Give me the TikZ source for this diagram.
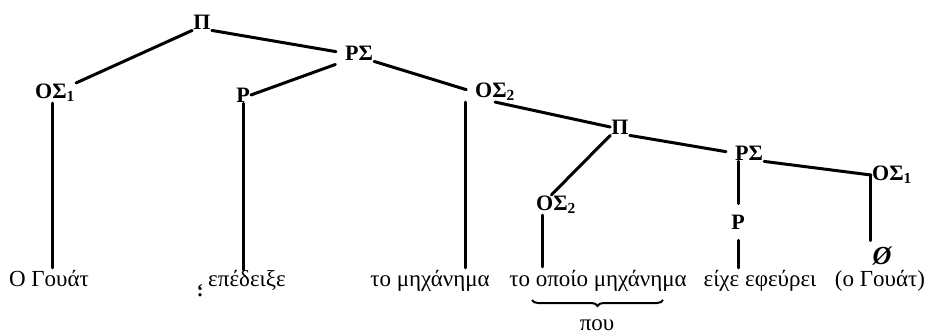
\documentclass[tikz,border=0pt]{standalone}
\usepackage{fontspec}
\setmainfont{Liberation Serif}
\usetikzlibrary{calc,decorations.pathreplacing}
\begin{document}
\begin{tikzpicture}[x=1pt,y=-1pt,
  lab/.style={font=\fontsize{22}{22}\selectfont\bfseries, inner sep=1pt},
  word/.style={font=\fontsize{23}{23}\selectfont, inner sep=1pt, anchor=base, text height=15pt, text depth=5pt},
  edge/.style={line width=3pt, line cap=round},
  bracestyle/.style={line width=2pt, decorate, decoration={brace, mirror, amplitude=6pt}}]
\useasboundingbox (0,0) rectangle (925,334);
% labels
\node[lab] (pi) at (202,22) {Π};
\node[lab] (ps) at (359,53) {ΡΣ};
\node[lab] (os1) at (55,93) {ΟΣ\textsubscript{1}};
\node[lab] (p1) at (243,95) {Ρ};
\node[lab] (os2) at (495,92) {ΟΣ\textsubscript{2}};
\node[lab] (pi2) at (620,127) {Π};
\node[lab] (os2b) at (556,205) {ΟΣ\textsubscript{2}};
\node[lab] (ps2) at (749,153) {ΡΣ};
\node[lab] (os1b) at (892,175) {ΟΣ\textsubscript{1}};
\node[lab] (p2) at (738,222) {Ρ};
\node[font=\fontsize{26}{26}\selectfont\itshape\bfseries, inner sep=1pt] (null) at (882,256) {Ø};
% words
\node[word] (w1) at (49,286) {Ο Γουάτ};
\node[word] (w2) at (247,286) {επέδειξε};
\node[word] (w3) at (430,286) {το μηχάνημα};
\node[word] (w4) at (598,286) {το οποίο μηχάνημα};
\node[word] (w5) at (760,286) {είχε εφεύρει};
\node[word] (w6) at (880,286) {(ο Γουάτ)};
\node[word, text depth=0pt] (pou) at (597,330) {που};
\node[font=\fontsize{20}{20}\selectfont\bfseries, inner sep=0pt] (mk) at (200,291) {\rotatebox{180}{;}};
% brace
\coordinate (bl) at (532,300);
\coordinate (br) at (663,300);
\draw[bracestyle] (bl) -- (br);
% edges
\draw[edge] (pi.south west) -- (os1.north east);
\draw[edge, shorten >=8pt] (pi.south east) -- (ps.west);
\draw[edge, shorten <=9pt] (ps.south west) -- (p1.east);
\draw[edge, shorten >=8pt] (ps.south east) -- (os2.west);
\draw[edge, shorten >=2pt] ($(os2.south west)+(-8,0)$) -- ($(os2.south west |- w3.north)+(-8,0)$);
\draw[edge, shorten >=2pt] ($(os1.south)+(-3,0)$) -- ($(os1.south |- w1.north)+(-3,0)$);
\draw[edge] (p1.south) -- (p1.south |- w2.north);
\draw[edge] (os2.south) -- (pi2.west);
\draw[edge] (pi2.south west) -- (os2b.115);
\draw[edge, shorten >=3pt] ($(os2b.south west)+(8,0)$) -- ($(os2b.south west |- w4.north)+(8,0)$);
\draw[edge, shorten >=8pt] (pi2.south east) -- (ps2.west);
\draw[edge] (ps2.south east) -- (os1b.west);
\draw[edge, shorten >=5pt] (os1b.west) -- (os1b.west |- null.north);
\draw[edge, shorten >=10pt] (p2.north |- ps2.south) -- (p2.north);
\draw[edge, shorten <=10pt, shorten >=2pt] (p2.south) -- (p2.south |- w5.north);
\end{tikzpicture}
\end{document}
